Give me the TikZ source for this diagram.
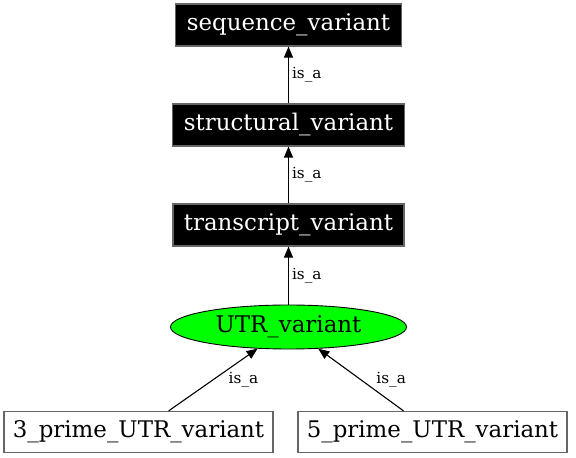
\documentclass[tikz,border=0pt]{standalone}
\usepackage{fontspec}
\setmainfont{DejaVu Serif}
\usetikzlibrary{arrows.meta, positioning, shapes.geometric}
\newcommand*{\termfont}{\fontsize{22.9pt}{27pt}\selectfont}
\newcommand*{\isafont}{\fontsize{15.3pt}{18pt}\selectfont}

\begin{document}
\begin{tikzpicture}[node distance=100pt,on grid,>={Triangle[length=11pt,width=9pt]},
      every node/.style={inner sep=0pt},
      blackbox/.style={rectangle,fill=black,draw=black!60,line width=1.2pt,text=white,
        minimum height=42pt,font=\termfont},
      whitebox/.style={rectangle,draw=black!60,line width=1.2pt,
        minimum width=269pt,minimum height=41pt,font=\termfont},
      greenoval/.style={ellipse,fill=green,draw=black,line width=0.9pt,
        minimum width=236pt,minimum height=44pt,font=\termfont},
      isa/.style={right=3pt,font=\isafont}]
      \useasboundingbox (0,0) rectangle (576pt,458pt);
      \node[blackbox, minimum width=226pt] (sequence) at (288.5pt,433pt) {sequence\_variant};
      \node[blackbox, minimum width=232pt] (structural) [below=of sequence] {structural\_variant};
      \node[blackbox, minimum width=231pt] (transcript) [below=of structural] {transcript\_variant};
      \node[greenoval] (utr) [below=102pt of transcript] {UTR\_variant};
      \node[whitebox] (utr_3) [below left=105pt and 150pt of utr] {3\_prime\_UTR\_variant};
      \node[whitebox] (utr_5) [below right=105pt and 144pt of utr] {5\_prime\_UTR\_variant};
      \path[->,line width=1.1pt]
      (structural) edge node [isa] {is\_a} (sequence)
      (transcript) edge node [isa] {is\_a} (structural)
      (utr) edge node [isa] {is\_a} (transcript)
      (utr_3) edge node [isa, xshift=12pt] {is\_a} (utr)
      (utr_5) edge node [isa, xshift=12pt] {is\_a} (utr);
    \end{tikzpicture}
\end{document}
